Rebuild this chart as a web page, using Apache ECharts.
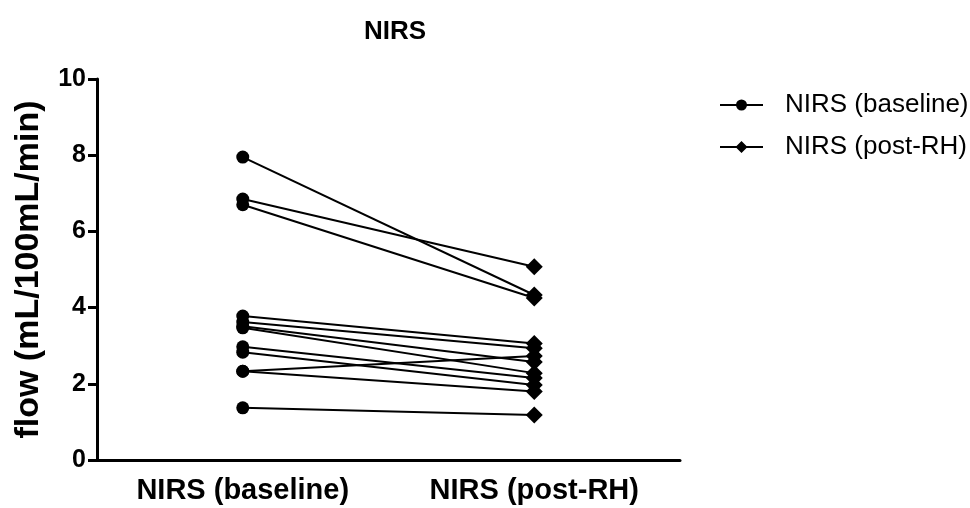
<!DOCTYPE html>
<html>
<head>
<meta charset="utf-8">
<script src="https://cdn.jsdelivr.net/npm/echarts@6/dist/echarts.min.js"></script>
<style>html,body{margin:0;padding:0;background:#fff;}#c{width:970px;height:508px;}</style>
</head>
<body>
<div id="c"></div>
<script>
var categories = ['NIRS (baseline)', 'NIRS (post-RH)'];
var baseline = [7.95, 6.85, 6.70, 3.78, 3.62, 3.51, 3.47, 2.97, 2.83, 2.33, 2.33, 1.37];
var postRH   = [4.33, 5.07, 4.25, 3.06, 2.93, 2.57, 2.28, 2.15, 1.97, 2.73, 1.80, 1.18];
var yTicks = [0, 2, 4, 6, 8, 10];

var font = 'Liberation Sans, Arial, sans-serif';
var series = [];
for (var i = 0; i < baseline.length; i++) {
  series.push({
    type: 'line',
    data: [baseline[i], postRH[i]],
    symbol: 'none',
    lineStyle: {color: '#000', width: 2},
    silent: true,
    z: 2
  });
}
series.push({
  name: 'NIRS (baseline)',
  type: 'scatter',
  data: baseline.map(function (v) { return [0, v]; }),
  symbol: 'circle',
  symbolSize: 13,
  itemStyle: {color: '#000', opacity: 1},
  z: 3
});
series.push({
  name: 'NIRS (post-RH)',
  type: 'scatter',
  data: postRH.map(function (v) { return [1, v]; }),
  symbol: 'diamond',
  symbolSize: 17,
  itemStyle: {color: '#000', opacity: 1},
  z: 3
});

var circleIcon = 'path://M0,5 L17,5 L17,7 L0,7 Z M26,5 L43,5 L43,7 L26,7 Z M16,6 A5.5,5.5 0 1,1 27,6 A5.5,5.5 0 1,1 16,6 Z M0,0 L0.01,0 L0.01,0.01 Z M0,12 L0.01,12 L0.01,11.99 Z';
var diamondIcon = 'path://M0,5 L17,5 L17,7 L0,7 Z M26,5 L43,5 L43,7 L26,7 Z M21.5,0 L27.5,6 L21.5,12 L15.5,6 Z';

var chart = echarts.init(document.getElementById('c'));
chart.setOption({
  animation: false,
  title: {
    text: 'NIRS', left: 390, top: 14, textAlign: 'center',
    textStyle: {fontFamily: font, fontSize: 26, fontWeight: 'bold', color: '#000'}
  },
  legend: {
    orient: 'vertical', left: 715, top: 86,
    itemWidth: 43, itemHeight: 12, itemGap: 14,
    data: [
      {name: 'NIRS (baseline)', icon: circleIcon},
      {name: 'NIRS (post-RH)', icon: diamondIcon}
    ],
    textStyle: {fontFamily: font, fontSize: 26, lineHeight: 28, color: '#000', padding: [0, 0, 0, 17]}
  },
  grid: {left: 97, right: 290, top: 79, bottom: 48, containLabel: false},
  xAxis: {
    type: 'category',
    data: categories,
    boundaryGap: true,
    axisLine: {lineStyle: {color: '#000', width: 3}},
    axisTick: {alignWithLabel: true, length: 9, lineStyle: {color: '#000', width: 3}},
    axisLabel: {fontFamily: font, fontSize: 29, fontWeight: 'bold', color: '#000', margin: 16},
    splitLine: {show: false}
  },
  yAxis: {
    type: 'value', min: 0, max: 10, interval: 2,
    name: 'flow (mL/100mL/min)', nameLocation: 'middle', nameGap: 51, nameRotate: 90,
    nameTextStyle: {fontFamily: font, fontSize: 34, fontWeight: 'bold', color: '#000'},
    axisLine: {show: true, lineStyle: {color: '#000', width: 3}},
    axisTick: {show: true, length: 9, lineStyle: {color: '#000', width: 3}},
    axisLabel: {fontFamily: font, fontSize: 25, fontWeight: 'bold', color: '#000', margin: 11,
      formatter: function (v) { return yTicks.indexOf(v) >= 0 ? String(v) : ''; }},
    splitLine: {show: false}
  },
  series: series
});
</script>
</body>
</html>
